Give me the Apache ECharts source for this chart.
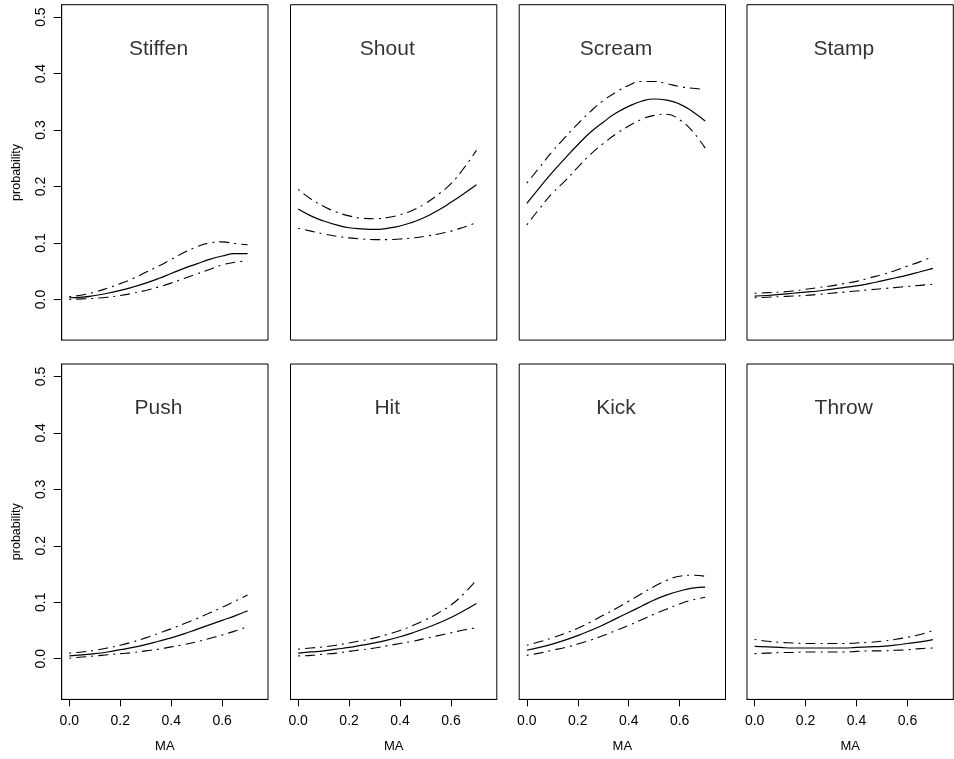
<!DOCTYPE html>
<html>
<head>
<meta charset="UTF-8">
<title>probability vs MA</title>
<script src="https://cdn.jsdelivr.net/npm/echarts@6/dist/echarts.min.js"></script>
<style>
  html, body { margin: 0; padding: 0; background: #fff; }
  #chart { width: 954px; height: 759px; }
</style>
</head>
<body>
<div id="chart"></div>
<script>
// x values (MA)
var ma = [0, 0.05, 0.1, 0.15, 0.2, 0.25, 0.3, 0.35, 0.4, 0.45, 0.5, 0.55, 0.6, 0.65, 0.7];

// fitted probability, upper and lower bands
var stiffenFit   = [0.003, 0.004, 0.007, 0.011, 0.016, 0.022, 0.029, 0.037, 0.046, 0.055, 0.063, 0.071, 0.077, 0.081, 0.081];
var stiffenUpper = [0.005, 0.008, 0.013, 0.020, 0.028, 0.037, 0.048, 0.059, 0.071, 0.083, 0.093, 0.100, 0.102, 0.099, 0.097];
var stiffenLower = [0.000, 0.001, 0.002, 0.004, 0.007, 0.011, 0.016, 0.022, 0.029, 0.037, 0.045, 0.053, 0.061, 0.066, 0.068];

var shoutFit   = [0.160, 0.148, 0.139, 0.132, 0.127, 0.125, 0.124, 0.126, 0.130, 0.137, 0.146, 0.158, 0.172, 0.187, 0.203];
var shoutUpper = [0.195, 0.178, 0.165, 0.155, 0.148, 0.144, 0.143, 0.145, 0.150, 0.158, 0.170, 0.186, 0.205, 0.232, 0.264];
var shoutLower = [0.126, 0.121, 0.116, 0.112, 0.109, 0.107, 0.106, 0.106, 0.107, 0.109, 0.112, 0.116, 0.121, 0.128, 0.136];

var screamFit   = [0.170, 0.198, 0.225, 0.250, 0.274, 0.296, 0.314, 0.330, 0.342, 0.351, 0.355, 0.353, 0.346, 0.333, 0.316];
var screamUpper = [0.206, 0.234, 0.262, 0.287, 0.311, 0.333, 0.352, 0.367, 0.379, 0.386, 0.386, 0.382, 0.377, 0.374, 0.372];
var screamLower = [0.132, 0.161, 0.188, 0.210, 0.234, 0.257, 0.276, 0.293, 0.307, 0.319, 0.326, 0.328, 0.318, 0.298, 0.268];

var stampFit   = [0.006, 0.007, 0.009, 0.011, 0.013, 0.015, 0.018, 0.021, 0.024, 0.028, 0.033, 0.038, 0.043, 0.049, 0.055];
var stampUpper = [0.011, 0.012, 0.013, 0.015, 0.018, 0.021, 0.024, 0.028, 0.032, 0.038, 0.044, 0.051, 0.059, 0.067, 0.076];
var stampLower = [0.003, 0.004, 0.005, 0.006, 0.007, 0.009, 0.011, 0.013, 0.015, 0.017, 0.019, 0.021, 0.023, 0.025, 0.027];

var pushFit   = [0.005, 0.007, 0.009, 0.012, 0.016, 0.020, 0.025, 0.031, 0.037, 0.044, 0.052, 0.060, 0.068, 0.076, 0.085];
var pushUpper = [0.010, 0.012, 0.015, 0.019, 0.024, 0.030, 0.037, 0.045, 0.053, 0.062, 0.071, 0.081, 0.091, 0.102, 0.113];
var pushLower = [0.001, 0.003, 0.005, 0.007, 0.009, 0.011, 0.014, 0.017, 0.021, 0.025, 0.030, 0.036, 0.042, 0.049, 0.057];

var hitFit   = [0.010, 0.012, 0.014, 0.017, 0.020, 0.024, 0.028, 0.033, 0.039, 0.046, 0.054, 0.063, 0.073, 0.085, 0.098];
var hitUpper = [0.017, 0.019, 0.021, 0.024, 0.028, 0.032, 0.037, 0.043, 0.050, 0.059, 0.069, 0.081, 0.095, 0.115, 0.139];
var hitLower = [0.005, 0.006, 0.008, 0.010, 0.013, 0.016, 0.019, 0.023, 0.027, 0.031, 0.036, 0.041, 0.046, 0.051, 0.055];

var kickFit   = [0.015, 0.020, 0.026, 0.033, 0.041, 0.050, 0.060, 0.071, 0.082, 0.093, 0.104, 0.113, 0.120, 0.125, 0.127];
var kickUpper = [0.024, 0.030, 0.037, 0.045, 0.054, 0.065, 0.077, 0.089, 0.102, 0.115, 0.128, 0.139, 0.146, 0.148, 0.146];
var kickLower = [0.006, 0.010, 0.015, 0.020, 0.026, 0.033, 0.041, 0.050, 0.059, 0.069, 0.079, 0.088, 0.097, 0.104, 0.109];

var throwFit   = [0.022, 0.021, 0.020, 0.019, 0.019, 0.019, 0.019, 0.019, 0.020, 0.021, 0.022, 0.024, 0.027, 0.030, 0.034];
var throwUpper = [0.034, 0.031, 0.029, 0.028, 0.027, 0.027, 0.027, 0.027, 0.028, 0.029, 0.031, 0.034, 0.038, 0.043, 0.050];
var throwLower = [0.009, 0.010, 0.011, 0.011, 0.012, 0.012, 0.012, 0.012, 0.013, 0.014, 0.014, 0.015, 0.016, 0.018, 0.019];

var xTicks = [0, 0.2, 0.4, 0.6];
var yTicks = [0, 0.1, 0.2, 0.3, 0.4, 0.5];
var titleAt = [0.35, 0.45]; // where the panel names sit, in data units

var panels = [
    { name: 'Stiffen', fit: stiffenFit, upper: stiffenUpper, lower: stiffenLower },
    { name: 'Shout',   fit: shoutFit,   upper: shoutUpper,   lower: shoutLower },
    { name: 'Scream',  fit: screamFit,  upper: screamUpper,  lower: screamLower },
    { name: 'Stamp',   fit: stampFit,   upper: stampUpper,   lower: stampLower },
    { name: 'Push',    fit: pushFit,    upper: pushUpper,    lower: pushLower },
    { name: 'Hit',     fit: hitFit,     upper: hitUpper,     lower: hitLower },
    { name: 'Kick',    fit: kickFit,    upper: kickUpper,    lower: kickLower },
    { name: 'Throw',   fit: throwFit,   upper: throwUpper,   lower: throwLower }
];

var font = '"Liberation Sans", Arial, Helvetica, sans-serif';
var lefts = [61.7, 290.5, 519.2, 747];
var tops = [4.7, 364];
var boxW = 206.3, boxH = 335.4;

function pairs(ys) {
    var out = [];
    for (var i = 0; i < ma.length; i++) out.push([ma[i], ys[i]]);
    return out;
}

var grids = [], xAxes = [], yAxes = [], series = [];

panels.forEach(function (p, k) {
    var col = k % 4, row = Math.floor(k / 4);
    grids.push({
        left: lefts[col], top: tops[row], width: boxW, height: boxH,
        show: true, borderColor: '#000', borderWidth: 1, backgroundColor: 'transparent'
    });
    xAxes.push({
        gridIndex: k, type: 'value', min: -0.03, max: 0.78,
        splitLine: { show: false },
        axisLine: { show: row === 1, onZero: false, lineStyle: { color: '#000', width: 1 } },
        axisTick: { show: row === 1, length: 7, customValues: xTicks, lineStyle: { color: '#000' } },
        axisLabel: {
            show: row === 1, customValues: xTicks, margin: 15,
            color: '#000', fontFamily: font, fontSize: 14,
            formatter: function (v) { return v.toFixed(1); }
        },
        name: row === 1 ? 'MA' : '', nameLocation: 'middle', nameGap: 41,
        nameTextStyle: { color: '#000', fontFamily: font, fontSize: 13 }
    });
    yAxes.push({
        gridIndex: k, type: 'value', min: -0.072, max: 0.522,
        splitLine: { show: false },
        axisLine: { show: col === 0, onZero: false, lineStyle: { color: '#000', width: 1 } },
        axisTick: { show: col === 0, length: 8, customValues: yTicks, lineStyle: { color: '#000' } },
        axisLabel: {
            show: col === 0, customValues: yTicks, rotate: 90, margin: 14,
            color: '#000', fontFamily: font, fontSize: 14,
            formatter: function (v) { return v.toFixed(1); }
        },
        name: col === 0 ? 'probability' : '', nameLocation: 'middle', nameGap: 39,
        nameTextStyle: { color: '#000', fontFamily: font, fontSize: 12.5 }
    });
    var base = { type: 'line', xAxisIndex: k, yAxisIndex: k, symbol: 'none', smooth: 0.5,
                 silent: true, animation: false };
    series.push(Object.assign({}, base, {
        data: pairs(p.fit), lineStyle: { color: '#000', width: 1.2 }
    }));
    series.push(Object.assign({}, base, {
        data: pairs(p.upper), lineStyle: { color: '#000', width: 1.1, type: [2, 5, 10, 5] }
    }));
    series.push(Object.assign({}, base, {
        data: pairs(p.lower), lineStyle: { color: '#000', width: 1.1, type: [2, 5, 10, 5] }
    }));
    series.push({
        type: 'scatter', xAxisIndex: k, yAxisIndex: k, symbolSize: 0, silent: true, animation: false,
        data: [titleAt],
        label: { show: true, position: 'inside', offset: [0, 4], formatter: p.name, color: '#000',
                 textBorderWidth: 0, fontFamily: font, fontSize: 21 }
    });
});

var myChart = echarts.init(document.getElementById('chart'));
myChart.setOption({
    backgroundColor: '#fff',
    animation: false,
    grid: grids,
    xAxis: xAxes,
    yAxis: yAxes,
    series: series
});
window.onresize = myChart.resize;
</script>
</body>
</html>
